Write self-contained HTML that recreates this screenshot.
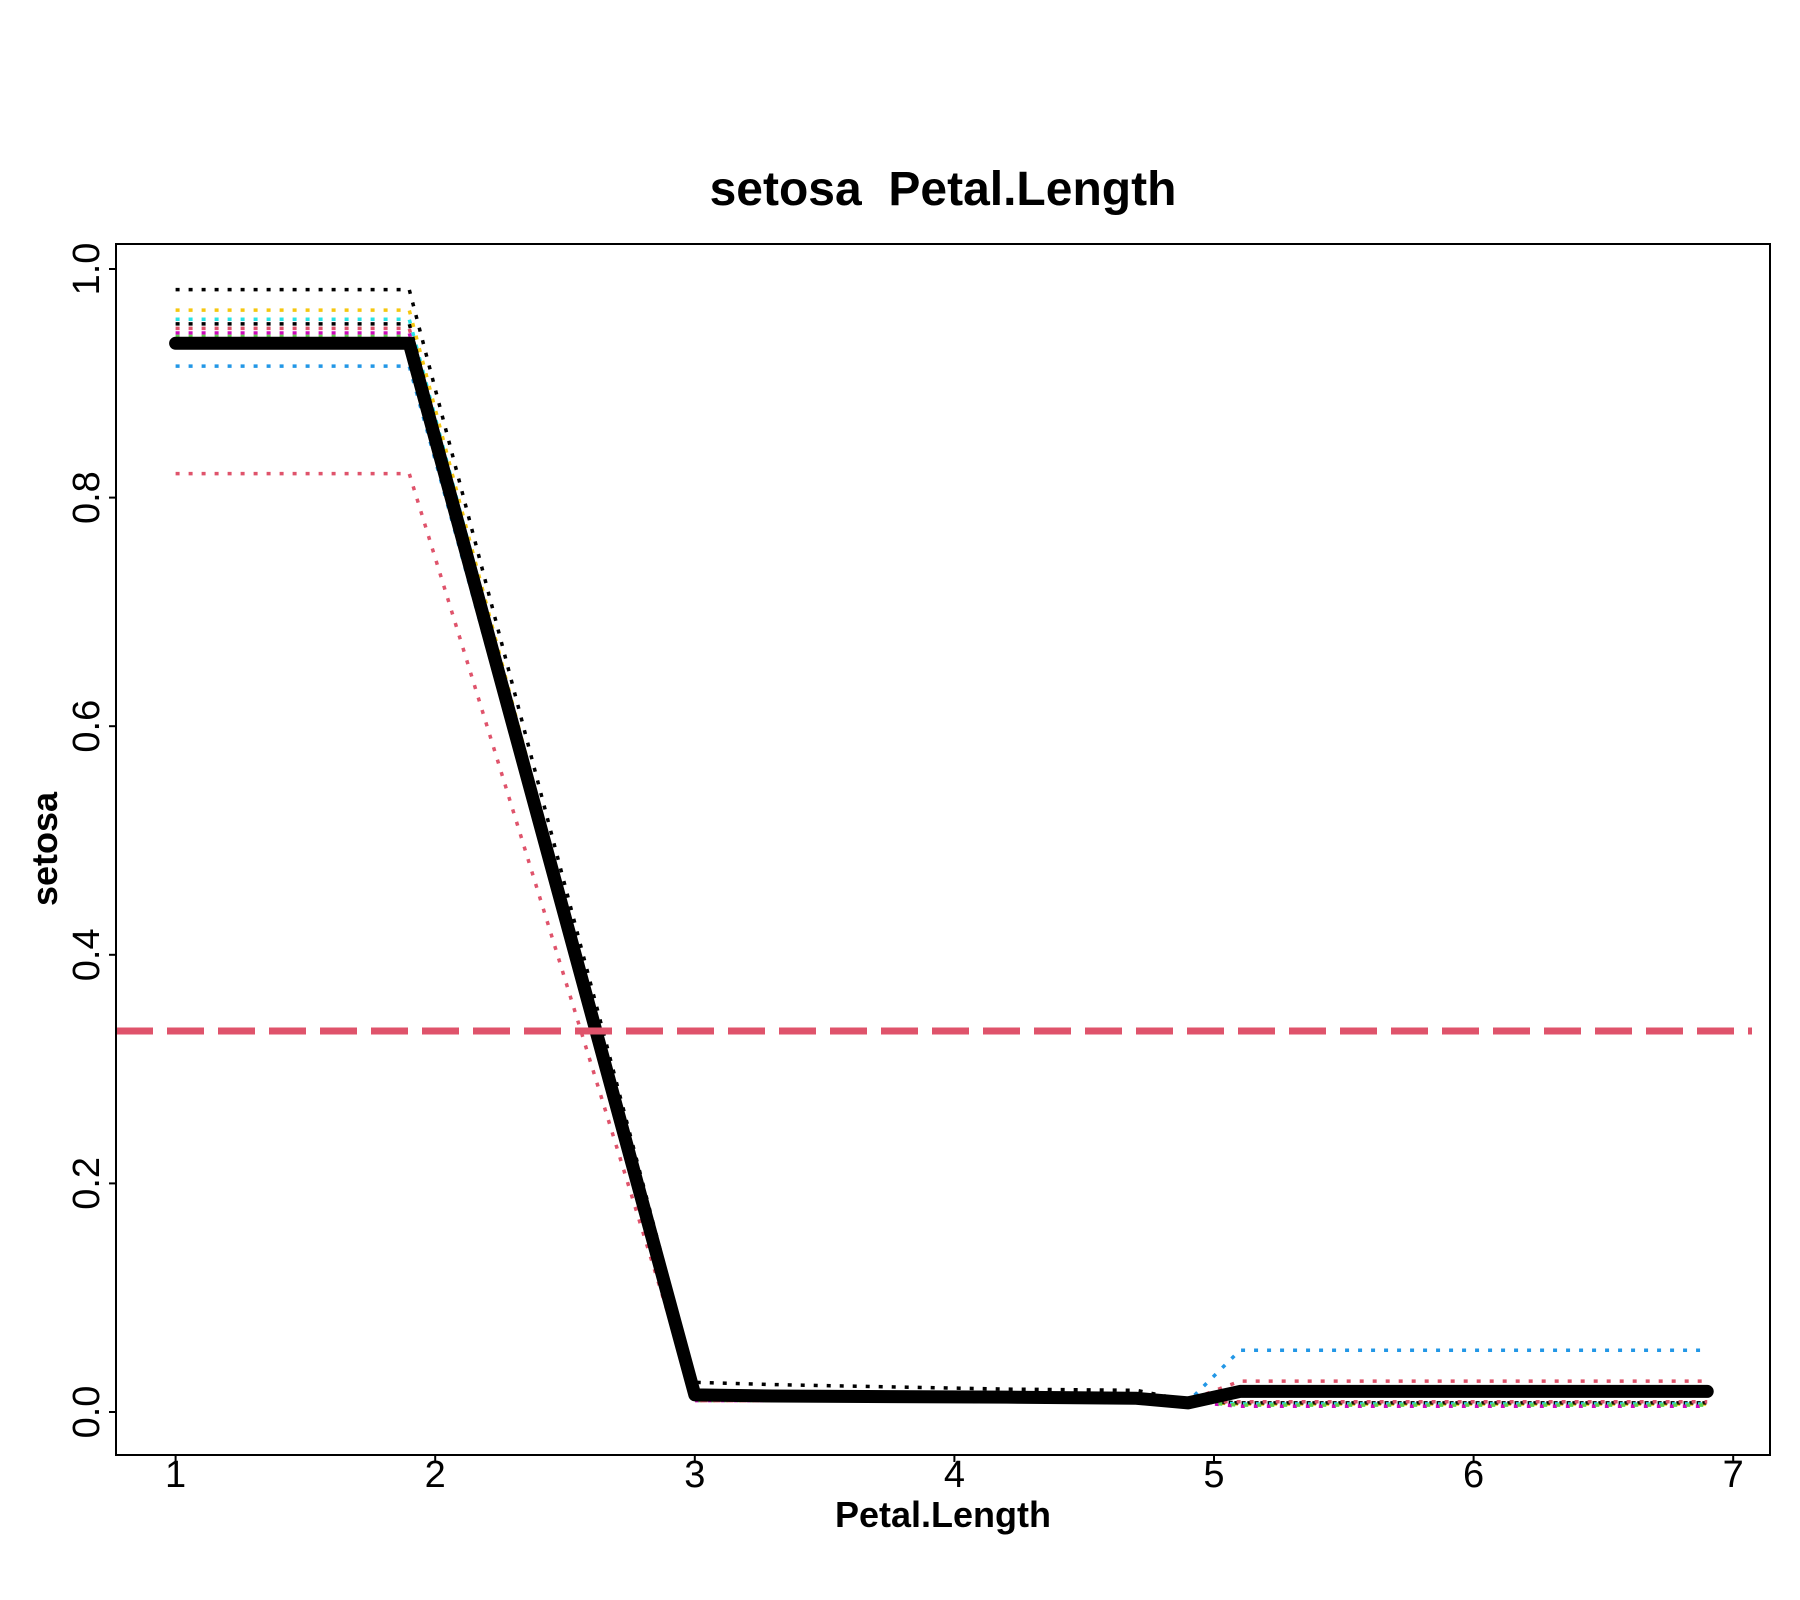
<!DOCTYPE html>
<html><head><meta charset="utf-8"><style>
html,body{margin:0;padding:0;background:#fff;}
svg{display:block;font-family:"Liberation Sans",sans-serif;}
</style></head><body>
<svg id="chart" width="1800" height="1600" viewBox="0 0 1800 1600" xmlns="http://www.w3.org/2000/svg">
<rect width="1800" height="1600" fill="#fff"/>
<text x="943" y="205" font-size="48" font-weight="bold" text-anchor="middle" style="white-space:pre" xml:space="preserve">setosa  Petal.Length</text>
<text x="943" y="1527" font-size="36" font-weight="bold" text-anchor="middle">Petal.Length</text>
<text transform="translate(57,849) rotate(-90)" font-size="36" font-weight="bold" text-anchor="middle">setosa</text>
<g id="series"></g>
<g id="axes"></g>
<rect x="116" y="244" width="1654" height="1211" fill="none" stroke="#000" stroke-width="2"/>
</svg>
<script>
const xs = [1, 1.9, 3.0, 3.3, 4.2, 4.7, 4.9, 5.1, 6.9];
const meanSeries = [0.935, 0.935, 0.015, 0.014, 0.013, 0.012, 0.008, 0.018, 0.018];
const s1 = [0.982, 0.982, 0.026, 0.024, 0.020, 0.019, 0.010, 0.008, 0.008];
const s2 = [0.964, 0.964, 0.012, 0.011, 0.011, 0.010, 0.009, 0.007, 0.007];
const s3 = [0.956, 0.956, 0.012, 0.011, 0.011, 0.010, 0.009, 0.007, 0.007];
const s4 = [0.952, 0.952, 0.012, 0.011, 0.011, 0.010, 0.009, 0.008, 0.008];
const s5 = [0.948, 0.948, 0.010, 0.010, 0.010, 0.010, 0.009, 0.009, 0.009];
const s6 = [0.944, 0.944, 0.010, 0.010, 0.010, 0.010, 0.009, 0.005, 0.005];
const s7 = [0.941, 0.941, 0.010, 0.010, 0.010, 0.010, 0.009, 0.006, 0.006];
const s8 = [0.915, 0.915, 0.012, 0.011, 0.011, 0.010, 0.009, 0.054, 0.054];
const s9 = [0.821, 0.821, 0.010, 0.010, 0.010, 0.010, 0.010, 0.027, 0.027];
const seriesColors = ["#000000","#F5C710","#28E2E5","#000000","#DF536B","#CD0BBC","#61D04F","#2297E6","#DF536B"];
const xTicks = [1,2,3,4,5,6,7];
const yTicks = [0,0.2,0.4,0.6,0.8,1.0];
const yTickLabels = ["0.0","0.2","0.4","0.6","0.8","1.0"];
const refLine = [0.3333];

const X = v => 175.6 + (v - 1) * 259.6;
const Y = v => 1412 - v * 1143;
const NS = "http://www.w3.org/2000/svg";
const g = document.getElementById("series");
const ax = document.getElementById("axes");

const all = [s1,s2,s3,s4,s5,s6,s7,s8,s9];
all.forEach((s, i) => {
  const p = document.createElementNS(NS, "polyline");
  p.setAttribute("points", xs.map((x, j) => X(x) + "," + Y(s[j])).join(" "));
  p.setAttribute("fill", "none");
  p.setAttribute("stroke", seriesColors[i]);
  p.setAttribute("stroke-width", "3.5");
  p.setAttribute("stroke-dasharray", "4 9");
  
  
  g.appendChild(p);
});
const m = document.createElementNS(NS, "polyline");
m.setAttribute("points", xs.map((x, j) => X(x) + "," + Y(meanSeries[j])).join(" "));
m.setAttribute("fill", "none");
m.setAttribute("stroke", "#000");
m.setAttribute("stroke-width", "13");
m.setAttribute("stroke-linejoin", "round");
m.setAttribute("stroke-linecap", "round");


g.appendChild(m);

const r = document.createElementNS(NS, "line");
r.setAttribute("x1", 116); r.setAttribute("x2", 1752);
r.setAttribute("y1", Y(refLine[0])); r.setAttribute("y2", Y(refLine[0]));
r.setAttribute("stroke", "#DF536B");
r.setAttribute("stroke-width", "7");
r.setAttribute("stroke-dasharray", "37 14");


g.appendChild(r);

xTicks.forEach(v => {
  const t = document.createElementNS(NS, "line");
  t.setAttribute("x1", X(v)); t.setAttribute("x2", X(v));
  t.setAttribute("y1", 1455); t.setAttribute("y2", 1462);
  t.setAttribute("stroke", "#000"); t.setAttribute("stroke-width", "2");
  
  
  ax.appendChild(t);
  const l = document.createElementNS(NS, "text");
  l.setAttribute("x", X(v)); l.setAttribute("y", 1487);
  l.setAttribute("font-size", "38"); l.setAttribute("text-anchor", "middle");
  l.textContent = v;
  
  
  ax.appendChild(l);
});
yTicks.forEach((v, i) => {
  const t = document.createElementNS(NS, "line");
  t.setAttribute("x1", 109); t.setAttribute("x2", 116);
  t.setAttribute("y1", Y(v)); t.setAttribute("y2", Y(v));
  t.setAttribute("stroke", "#000"); t.setAttribute("stroke-width", "2");
  
  
  ax.appendChild(t);
  const l = document.createElementNS(NS, "text");
  l.setAttribute("transform", "translate(99," + Y(v) + ") rotate(-90)");
  l.setAttribute("font-size", "38"); l.setAttribute("text-anchor", "middle");
  l.textContent = yTickLabels[i];
  
  
  ax.appendChild(l);
});
</script>
</body></html>
